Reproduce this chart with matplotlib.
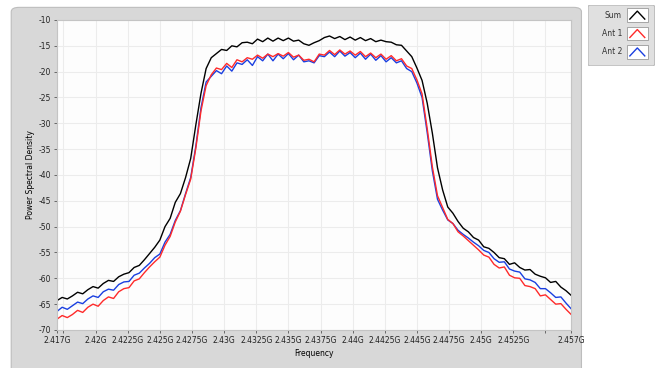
import numpy as np
import matplotlib.pyplot as plt
from matplotlib.patches import FancyBboxPatch, Rectangle

# frequency grid (GHz), 0.4 MHz steps
freq = np.linspace(2.417, 2.457, 101)

psd_sum = [
    -64.3, -63.7, -64.0, -63.4, -62.7, -63.0, -62.2, -61.6, -61.9, -61.0,
    -60.4, -60.6, -59.7, -59.2, -58.9, -57.9, -57.5, -56.4, -55.2, -54.0,
    -52.6, -50.0, -48.4, -45.3, -43.6, -40.5, -36.8, -30.3, -24.2, -19.4,
    -17.3, -16.5, -15.7, -15.9, -15.0, -15.2, -14.4, -14.3, -14.6, -13.7,
    -14.2, -13.5, -14.1, -13.5, -14.0, -13.5, -14.1, -13.9, -14.6, -14.9,
    -14.4, -14.0, -13.4, -13.1, -13.6, -13.2, -13.8, -13.3, -13.9, -13.4,
    -14.0, -13.6, -14.2, -13.9, -14.2, -14.3, -14.8, -14.9, -16.0, -17.1,
    -19.3, -21.7, -26.1, -31.9, -38.6, -42.9, -46.2, -47.4, -49.0, -50.3,
    -51.0, -52.1, -52.6, -53.9, -54.2, -55.0, -56.0, -56.2, -57.3, -57.0,
    -57.9, -58.4, -58.3, -59.2, -59.6, -59.9, -60.8, -60.6, -61.7, -62.4,
    -63.3,
]

psd_ant1 = [
    -67.9, -67.2, -67.6, -67.0, -66.2, -66.6, -65.6, -65.0, -65.4, -64.3,
    -63.6, -63.9, -62.6, -62.0, -61.8, -60.5, -60.1, -58.9, -57.8, -56.8,
    -55.9, -53.6, -51.9, -49.1, -47.0, -43.8, -40.8, -34.8, -27.6, -22.7,
    -20.6, -19.3, -19.6, -18.4, -19.2, -17.7, -18.1, -17.3, -17.6, -16.8,
    -17.4, -16.6, -17.1, -16.5, -17.0, -16.3, -17.2, -16.8, -17.8, -17.6,
    -18.1, -16.6, -16.8, -15.9, -16.7, -15.8, -16.6, -16.0, -16.8, -16.1,
    -17.1, -16.4, -17.3, -16.6, -17.6, -16.9, -17.9, -17.5, -18.9, -19.4,
    -21.6, -24.3, -31.0, -38.4, -44.0, -46.3, -48.6, -49.4, -51.0, -51.8,
    -52.7, -53.6, -54.5, -55.5, -55.9, -57.3, -58.0, -57.8, -59.4, -59.9,
    -60.0, -61.4, -61.6, -62.0, -63.4, -63.2, -64.1, -65.0, -64.9, -66.0,
    -67.0,
]

psd_ant2 = [
    -66.4, -65.6, -66.0, -65.3, -64.6, -64.9, -64.0, -63.4, -63.7, -62.6,
    -62.1, -62.3, -61.2, -60.7, -60.6, -59.4, -59.0, -58.0, -57.1, -56.0,
    -55.3, -53.0, -51.5, -48.8, -46.9, -43.6, -40.5, -34.4, -27.0, -22.0,
    -20.9, -19.8, -20.4, -18.9, -19.9, -18.3, -18.6, -17.7, -18.8, -17.1,
    -17.9, -16.6, -17.9, -16.6, -17.5, -16.5, -17.7, -16.8, -18.1, -17.9,
    -18.3, -16.9, -17.1, -16.2, -17.1, -16.0, -17.0, -16.3, -17.3, -16.4,
    -17.6, -16.6, -17.8, -16.9, -18.1, -17.3, -18.3, -17.9, -19.4, -20.0,
    -22.2, -25.0, -31.8, -39.2, -44.7, -46.8, -48.7, -49.4, -50.7, -51.5,
    -52.2, -53.0, -53.7, -54.6, -55.0, -56.2, -56.9, -56.8, -58.2, -58.6,
    -58.8, -60.1, -60.3, -60.8, -62.0, -62.0, -62.8, -63.7, -63.6, -64.8,
    -65.9,
]

xticks = [2.417, 2.4175, 2.42, 2.4225, 2.425, 2.4275, 2.43, 2.4325, 2.435,
          2.4375, 2.44, 2.4425, 2.445, 2.4475, 2.45, 2.4525, 2.455, 2.457]
xtick_labels = ['2.417G', '', '2.42G', '2.4225G', '2.425G', '2.4275G', '2.43G',
                '2.4325G', '2.435G', '2.4375G', '2.44G', '2.4425G', '2.445G',
                '2.4475G', '2.45G', '2.4525G', '', '2.457G']
yticks = [-70, -65, -60, -55, -50, -45, -40, -35, -30, -25, -20, -15, -10]

names = ['Sum', 'Ant 1', 'Ant 2']
colors = ['#000000', '#ff2a2a', '#1a3fe0']

fig = plt.figure(figsize=(6.6, 3.68), dpi=100)
fig.patch.set_facecolor('white')

# grey graph panel behind the plot area
panel = FancyBboxPatch((0.017, -0.02), 0.864, 1.0, boxstyle='round,pad=0,rounding_size=0.012',
                       transform=fig.transFigure, facecolor='#d8d8d8', edgecolor='#bdbdbd',
                       linewidth=0.8, zorder=-5)
fig.patches.append(panel)

ax = fig.add_axes([0.0864, 0.1033, 0.779, 0.8424])
ax.set_facecolor('#fdfdfd')
ax.plot(freq, psd_sum, color=colors[0], lw=1.0)
ax.plot(freq, psd_ant2, color=colors[2], lw=1.0)
ax.plot(freq, psd_ant1, color=colors[1], lw=1.0)

ax.set_xlim(2.417, 2.457)
ax.set_ylim(-70, -10)
ax.set_xticks(xticks)
ax.set_xticklabels(xtick_labels)
ax.set_yticks(yticks)
ax.set_yticklabels([str(v) for v in yticks])
ax.tick_params(labelsize=5.5, length=2.5, width=0.6, color='#555555', labelcolor='#222222', pad=1.5)
ax.grid(True, color='#ececec', lw=0.8)
for s in ax.spines.values():
    s.set_color('#c4c4c4')
    s.set_linewidth(0.8)

ax.set_xlabel('Frequency', fontsize=5.5, labelpad=3)
ax.set_ylabel('Power Spectral Density', fontsize=5.5, labelpad=3)

# legend box to the right
lax = fig.add_axes([0.891, 0.821, 0.101, 0.165])
lax.set_xlim(0, 67)
lax.set_ylim(61, 0)
lax.axis('off')
lax.add_patch(FancyBboxPatch((0, 0), 67, 61, boxstyle='round,pad=0,rounding_size=2',
                             facecolor='#e0e0e0', edgecolor='#b8b8b8', lw=0.8))
for i, (name, c) in enumerate(zip(names, colors)):
    yc = 10 + i * 18.5
    lax.text(34, yc, name, fontsize=5.5, ha='right', va='center', color='#333333')
    lax.add_patch(Rectangle((39, yc - 7), 21, 14, facecolor='white', edgecolor='#999999', lw=0.6))
    lax.plot([42, 49.5, 57], [yc + 4, yc - 4, yc + 4], color=c, lw=1.0)

fig.savefig('out.png', dpi=100)
